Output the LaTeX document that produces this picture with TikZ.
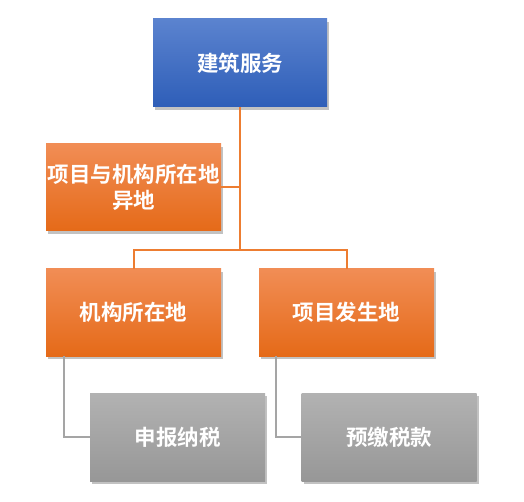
\documentclass[tikz,border=0pt]{standalone}
\usepackage{fontspec}
\newfontfamily\cjk{Noto Sans CJK SC Bold}
\usetikzlibrary{shadows,calc}
\definecolor{bluetop}{HTML}{5B83CF}
\definecolor{bluebot}{HTML}{2E5EB8}
\definecolor{orgtop}{HTML}{F18D55}
\definecolor{orgbot}{HTML}{E56A18}
\definecolor{graytop}{HTML}{B2B2B2}
\definecolor{graybot}{HTML}{979797}
\definecolor{orgline}{HTML}{ED7D31}
\definecolor{grayline}{HTML}{A5A5A5}
\tikzset{
  boxbase/.style={rectangle, inner sep=0pt, align=center, text=white,
    font=\cjk\fontsize{21.5}{26}\selectfont,
    drop shadow={shadow xshift=2pt, shadow yshift=-3pt, opacity=0.4, fill=black!60}},
  bluebox/.style={boxbase, top color=bluetop, bottom color=bluebot, minimum width=174pt, minimum height=88pt},
  orgbox/.style={boxbase, top color=orgtop, bottom color=orgbot, minimum width=175pt, minimum height=87pt},
  graybox/.style={boxbase, top color=graytop, bottom color=graybot, minimum width=175pt, minimum height=88pt},
  oline/.style={draw=orgline, line width=2pt},
  gline/.style={draw=grayline, line width=2pt},
}
\begin{document}
\begin{tikzpicture}[x=1pt,y=-1pt]
\useasboundingbox (0,0) rectangle (524,502);
\node[bluebox] (top) at (240,63) {建筑服务};
\node[orgbox] (mid) at (133.5,187.5) {项目与机构所在地\\异地};
\node[orgbox] (left) at (133.5,312.5) {机构所在地};
\node[orgbox] (right) at (346.5,312.5) {项目发生地};
\node[graybox] (gl) at (177.5,437) {申报纳税};
\node[graybox] (gr) at (389,437) {预缴税款};
\coordinate (bus) at (240,250);
\draw[oline] (top.south) -- (bus);
\draw[oline] (mid.east) -- (mid.east -| top.south);
\draw[oline] (left.north) |- (bus) -| (right.north);
\draw[gline] ($(left.south west)+(18,0)$) |- (gl.west);
\draw[gline] ($(right.south west)+(17,0)$) |- (gr.west);
\end{tikzpicture}
\end{document}
